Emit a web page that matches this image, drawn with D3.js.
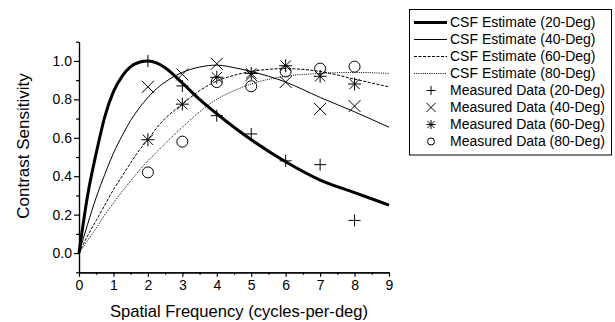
<!DOCTYPE html>
<html>
<head>
<meta charset="utf-8">
<script src="https://cdn.jsdelivr.net/npm/d3@7"></script>
<style>
  body { margin: 0; background: #fff; }
  svg text { font-family: "Liberation Sans", Arial, sans-serif; fill: #000; }
</style>
</head>
<body>
<div id="chart"></div>
<script>
// CSF estimate curves
const curveX = [0, 0.25, 0.5, 0.75, 1, 1.25, 1.5, 1.75, 2, 2.25, 2.5, 3, 3.5, 4, 4.5, 5, 6, 7, 8, 9];
const csf20 = [0, 0.30, 0.52, 0.71, 0.84, 0.92, 0.97, 0.993, 1.0, 0.99, 0.965, 0.885, 0.80, 0.725, 0.655, 0.59, 0.475, 0.38, 0.315, 0.25];
const csf40 = [0, 0.15, 0.29, 0.41, 0.52, 0.61, 0.69, 0.755, 0.81, 0.855, 0.89, 0.94, 0.968, 0.978, 0.965, 0.945, 0.89, 0.81, 0.735, 0.655];
const csf60 = [0, 0.09, 0.17, 0.25, 0.33, 0.40, 0.47, 0.535, 0.59, 0.65, 0.70, 0.775, 0.845, 0.895, 0.925, 0.945, 0.96, 0.945, 0.905, 0.865];
const csf80 = [0, 0.065, 0.13, 0.20, 0.26, 0.32, 0.375, 0.43, 0.48, 0.525, 0.57, 0.655, 0.735, 0.80, 0.845, 0.88, 0.92, 0.935, 0.94, 0.935];

// measured points
const measX = [2, 3, 4, 5, 6, 7, 8];
const meas20 = [1.0, 0.87, 0.715, 0.62, 0.48, 0.46, 0.17];
const meas40 = [0.865, 0.93, 0.985, 0.925, 0.89, 0.75, 0.765];
const meas60 = [0.59, 0.775, 0.915, 0.935, 0.975, 0.92, 0.88];
const meas80 = [0.42, 0.58, 0.89, 0.868, 0.945, 0.96, 0.97];

const xMajor = [0, 1, 2, 3, 4, 5, 6, 7, 8, 9];
const xMinor = [0.5, 1.5, 2.5, 3.5, 4.5, 5.5, 6.5, 7.5, 8.5];
const yMajor = [0, 0.2, 0.4, 0.6, 0.8, 1.0];
const yMinor = [-0.1, 0.1, 0.3, 0.5, 0.7, 0.9, 1.1];

const curveLabels = ["CSF Estimate (20-Deg)", "CSF Estimate (40-Deg)", "CSF Estimate (60-Deg)", "CSF Estimate (80-Deg)"];
const measLabels = ["Measured Data (20-Deg)", "Measured Data (40-Deg)", "Measured Data (60-Deg)", "Measured Data (80-Deg)"];

const width = 615, height = 322;
const margin = { top: 41.7, left: 79, right: 226, bottom: 49.7 };

const svg = d3.select("#chart").append("svg")
  .attr("width", width)
  .attr("height", height);

let xScale = d3.scaleLinear().domain([0, 9]).range([margin.left, width - margin.right]);
let yScale = d3.scaleLinear().domain([-0.1, 1.1]).range([height - margin.bottom, margin.top]);

// axes: minor ticks first, then labelled majors
svg.append("g")
  .attr("transform", "translate(0," + yScale(-0.1) + ")")
  .call(d3.axisBottom(xScale).tickValues(xMinor).tickSize(2.5).tickSizeOuter(0).tickFormat(""));
svg.append("g")
  .attr("transform", "translate(0," + yScale(-0.1) + ")")
  .call(d3.axisBottom(xScale).tickValues(xMajor).tickSize(4.5).tickSizeOuter(0).tickPadding(3).tickFormat(d3.format("d")))
  .call(g => g.selectAll("text").style("font-size", "14px"));

svg.append("g")
  .attr("transform", "translate(" + xScale(0) + ",0)")
  .call(d3.axisLeft(yScale).tickValues(yMinor).tickSize(3).tickSizeOuter(0).tickFormat(""));
svg.append("g")
  .attr("transform", "translate(" + xScale(0) + ",0)")
  .call(d3.axisLeft(yScale).tickValues(yMajor).tickSize(5).tickSizeOuter(0).tickPadding(2).tickFormat(d3.format(".1f")))
  .call(g => g.selectAll("text").style("font-size", "14px"));

svg.selectAll(".domain, .tick line").attr("stroke", "#000").attr("stroke-width", 1.2);

// axis titles
svg.append("text")
  .attr("x", 239).attr("y", 317)
  .attr("text-anchor", "middle")
  .style("font-size", "16.6px")
  .text("Spatial Frequency (cycles-per-deg)");

svg.append("text")
  .attr("transform", "translate(29,146) rotate(-90)")
  .attr("text-anchor", "middle")
  .style("font-size", "17px")
  .text("Contrast Sensitivity");

// line styles
const lineStyles = [
  { width: 3, dash: null },
  { width: 1, dash: null },
  { width: 1, dash: "3,1.5" },
  { width: 1, dash: "1,1.2" }
];

const curves = [csf20, csf40, csf60, csf80];

let line = d3.line()
  .curve(d3.curveMonotoneX)
  .x(d => xScale(d[0]))
  .y(d => yScale(d[1]));

curves.forEach((vals, i) => {
  svg.append("path")
    .datum(curveX.map((x, j) => [x, vals[j]]))
    .attr("fill", "none")
    .attr("stroke", "#000")
    .attr("stroke-width", lineStyles[i].width)
    .attr("stroke-dasharray", lineStyles[i].dash)
    .attr("d", line);
});

// marker shapes
function markerPath(type, s) {
  const p = d3.path();
  if (type === "plus" || type === "star") {
    p.moveTo(-s, 0); p.lineTo(s, 0);
    p.moveTo(0, -s); p.lineTo(0, s);
  }
  if (type === "cross" || type === "star") {
    const k = type === "star" ? s * 0.8 : s;
    p.moveTo(-k, -k); p.lineTo(k, k);
    p.moveTo(-k, k); p.lineTo(k, -k);
  }
  if (type === "circle") {
    p.arc(0, 0, s, 0, 2 * Math.PI);
  }
  return p.toString();
}

const markerTypes = ["plus", "cross", "star", "circle"];
const markerSizes = [6, 6, 6.5, 5.5];
const measured = [meas20, meas40, meas60, meas80];

measured.forEach((vals, i) => {
  svg.append("g").selectAll("path")
    .data(measX.map((x, j) => [x, vals[j]]))
    .join("path")
    .attr("transform", d => "translate(" + xScale(d[0]) + "," + yScale(d[1]) + ")")
    .attr("d", markerPath(markerTypes[i], markerSizes[i]))
    .attr("fill", "none")
    .attr("stroke", "#000")
    .attr("stroke-width", 1);
});

// legend
const legend = svg.append("g");
legend.append("rect")
  .attr("x", 409.5).attr("y", 9.5)
  .attr("width", 202).attr("height", 145.5)
  .attr("fill", "#fff")
  .attr("stroke", "#000")
  .attr("stroke-width", 1);

const rowY = i => 22.5 + i * 17;

curveLabels.forEach((label, i) => {
  legend.append("line")
    .attr("x1", 414).attr("x2", 447)
    .attr("y1", rowY(i)).attr("y2", rowY(i))
    .attr("stroke", "#000")
    .attr("stroke-width", lineStyles[i].width)
    .attr("stroke-dasharray", lineStyles[i].dash);
  legend.append("text")
    .attr("x", 450).attr("y", rowY(i))
    .attr("dy", "0.35em")
    .style("font-size", "14px")
    .text(label);
});

measLabels.forEach((label, i) => {
  legend.append("path")
    .attr("transform", "translate(431," + rowY(i + 4) + ")")
    .attr("d", markerPath(markerTypes[i], i === 3 ? 3.5 : 4.5))
    .attr("fill", "none")
    .attr("stroke", "#000")
    .attr("stroke-width", 1);
  legend.append("text")
    .attr("x", 450).attr("y", rowY(i + 4))
    .attr("dy", "0.35em")
    .style("font-size", "14px")
    .text(label);
});
</script>
</body>
</html>
